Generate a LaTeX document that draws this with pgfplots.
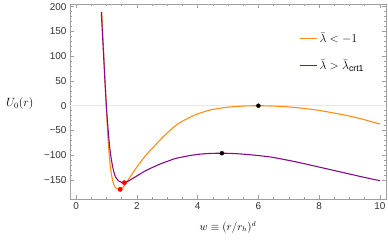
\documentclass[border=0pt]{standalone}
\usepackage{fontspec}
\setmainfont{Liberation Sans}
\usepackage{pgfplots}
\pgfplotsset{compat=1.18}
\usetikzlibrary{calc}
\definecolor{morange}{RGB}{255,140,20}
\definecolor{mpurple}{RGB}{135,10,135}
\definecolor{frame}{RGB}{160,160,160}
\begin{document}
\begin{tikzpicture}
\begin{axis}[
  scale only axis, width=316bp, height=195bp,
  xmin=-0.2, xmax=10.2, ymin=-188.5, ymax=205.5,
  axis line style={frame, line width=0.6pt},
  tick style={frame, line width=0.5pt},
  tick align=inside,
  major tick length=4bp, minor tick length=2.2bp,
  xtick={0,2,4,6,8,10}, minor x tick num=3,
  ytick={-150,-100,-50,0,50,100,150,200}, minor y tick num=4,
  yticklabels={−150,−100,−50,0,50,100,150,200},
  xticklabels={0,2,4,6,8,10},
  ticklabel style={font=\fontsize{10}{12}\selectfont, text=black!80},
  xlabel={$w\equiv(r/r_h)^d$},
  xlabel style={font=\fontsize{10.5}{12}\selectfont, at={(rel axis cs:0.5,0)}, anchor=center, yshift=-28bp},
  ylabel={$U_0(r)$},
  ylabel style={font=\fontsize{11.5}{13}\selectfont, rotate=-90, at={(rel axis cs:0,0.49)}, anchor=east, xshift=-33bp},
  legend style={draw=none, fill=none, at={(rel axis cs:0.725,0.865)}, anchor=north west,
    font=\fontsize{12.5}{14}\selectfont, row sep=12bp, inner sep=0pt,
    /tikz/every even column/.append style={column sep=4bp}},
  legend cell align=left,
  legend image post style={line width=1.3pt},
]
\addplot[forget plot, color=black!9, line width=1.3pt] coordinates {(-0.2,0) (10.2,0)};
\addplot[morange, line width=1.1pt, smooth, tension=0.5] coordinates {
(0.845,189) (0.9,118) (0.95,53) (1.0,-10) (1.05,-66) (1.1,-106) (1.15,-133) (1.2,-150)
(1.25,-160) (1.3,-165.5) (1.35,-168) (1.45,-169) (1.55,-165) (1.6,-160) (1.8,-142)
(2.0,-124) (2.3,-100) (2.6,-80) (2.8,-67) (3.0,-55) (3.3,-39) (3.6,-28) (3.9,-19)
(4.2,-12.5) (4.5,-7.5) (5.0,-3) (5.5,-0.7) (6.0,0) (6.5,-0.8) (7.0,-2.5) (7.5,-5.5)
(8.0,-9.5) (8.5,-15) (9.0,-21) (9.5,-28.5) (10,-37)};
\addlegendentry{$\bar\lambda<-1$}
\addplot[mpurple, line width=1.1pt, smooth, tension=0.5] coordinates {
(0.83,189) (0.9,108) (0.95,50) (1.0,-3) (1.05,-45) (1.1,-80) (1.15,-104) (1.2,-122)
(1.25,-135) (1.3,-144) (1.4,-152) (1.5,-155) (1.59,-155.5) (1.7,-153) (1.85,-147.5)
(2.0,-142) (2.3,-131) (2.76,-118) (3.09,-110.5) (3.31,-106) (3.86,-99.6) (4.3,-96.8)
(4.8,-96) (5.3,-97) (5.8,-99.5) (6.38,-103.5) (7.0,-110.5) (7.5,-117) (8.0,-124)
(8.5,-131) (9.0,-138) (9.5,-145) (10,-151.5)};
\addlegendentry{$\bar\lambda>\bar\lambda_{\mathrm{crt1}}$}
\addplot[forget plot, only marks, mark=*, mark size=2.2pt, color=red] coordinates {(1.45,-169) (1.59,-155.5)};
\addplot[forget plot, only marks, mark=*, mark size=2pt, color=black] coordinates {(6,0) (4.8,-96)};
\coordinate (sw) at (rel axis cs:0,0);
\coordinate (ne) at (rel axis cs:1,1);
\end{axis}
\pgfresetboundingbox
\path[use as bounding box] ($(sw)+(-70bp,-42bp)$) rectangle ($(ne)+(2bp,4bp)$);
\end{tikzpicture}
\end{document}
